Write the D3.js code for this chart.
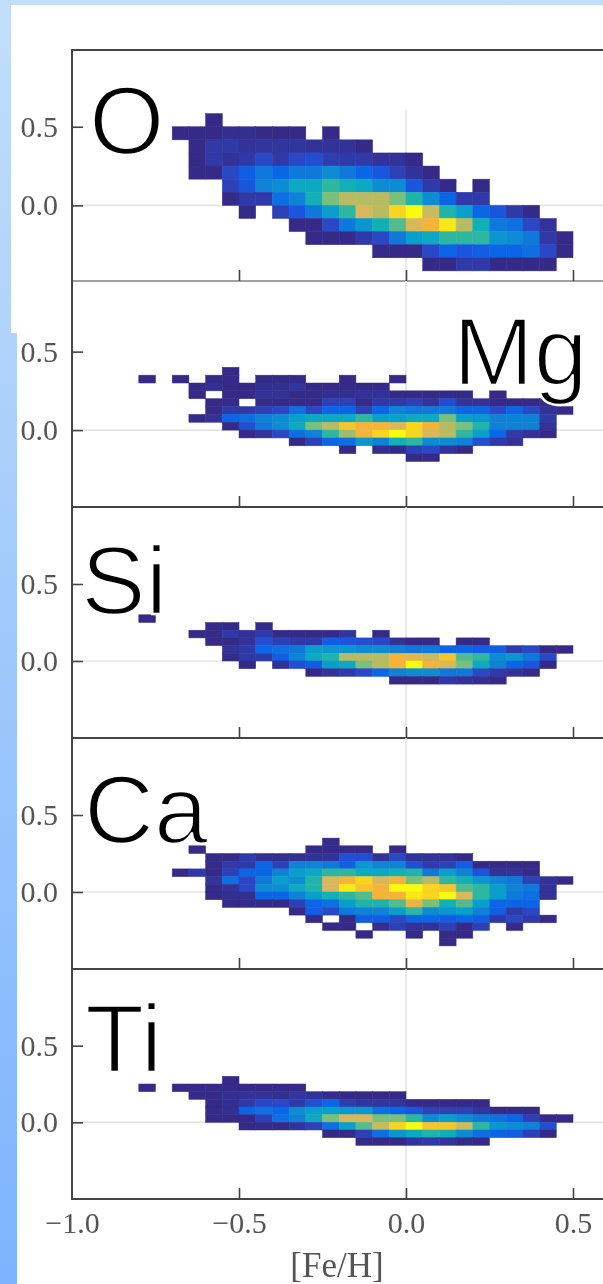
<!DOCTYPE html>
<html>
<head>
<meta charset="utf-8">
<script src="https://cdn.jsdelivr.net/npm/d3@7"></script>
<style>
html, body { margin: 0; padding: 0; background: #fff; overflow: hidden; }
svg { display: block; }
</style>
</head>
<body>
<svg id="mainsvg" width="603" height="1284"></svg>
<script>
// every row is [row index above [X/Fe]=0, first [Fe/H] column, cell levels], 0 = empty cell
var rowsO = [
	[6, 8, [1]],
	[5, 6, [1,1,1,1.3,1.3,1,1,1,0,1]],
	[4, 7, [1,2,2,1.5,1.6,1.7,1.7,1.5,1.5,1.5,1]],
	[3, 7, [1,2,1.5,2,3,2,3,3.5,2.3,2,2,1.5,1.5,1]],
	[2, 7, [1,1,3,4.5,6,5,6,6,7,6,5,4,2.5,1.5,1]],
	[1, 9, [2.5,4,6.5,7,8.5,8.5,10,9,8.5,7,7,4,2,1,0,1]],
	[0, 9, [1,2,2,5.5,6.5,9,11,12,12,12,11,9.5,7,5,2,2]],
	[-1, 10, [1,0,2.5,4,6,8,10,13,12,15,16,12.5,9.5,8,5,4,2,1]],
	[-2, 13, [1,1,3,6,7.5,9,10.5,13,14,15.5,12,9,6,5.5,3,1.5]],
	[-3, 14, [1,1,1,2,3,6,8,8.5,10,10,10,7.5,7,6,2,1]],
	[-4, 18, [1,1,1,3,5,4,4.5,5,5,5.5,3,1]],
	[-5, 21, [1,1,2,2,1,1,1,1]]
];
var rowsMg = [
	[7, 9, [1]],
	[6, 4, [1,0,1,0,1,1,0,1,1,1,0,0,1,0,0,1]],
	[5, 7, [1,1.3,1,1,1.3,1.3,1.7,1,1,1,1,1]],
	[4, 7, [1,0,1,1,1.5,1.5,1,1,1.3,1.3,1.5,1.5,1,1,1,1,1,0,1]],
	[3, 8, [1,1,0,1,1,1,1,2.5,2.5,1,2,2,2.5,1.5,3.5,1.5,1.5,1,1,1,1]],
	[2, 8, [1,2,2,2.5,3,5.5,3,5,5,2.5,5,6.5,6,6,6,5,5,3,5,3,1.5,1]],
	[1, 7, [1,1.5,5,5.5,6.5,7,8,8.5,8.5,8.5,10,8,8,8.5,8.5,11,8,7.5,6.5,6.5,6.5,2]],
	[0, 9, [1,3.5,6,7,8.5,11,12,14.5,14,14,13,15,14,12,11,9.5,6.5,6.5,6.5,1.5]],
	[-1, 10, [1,1.5,3,5.5,6.5,10,11.5,14,15,16,15,13,12,10,8,5,2,1.5,1]],
	[-2, 13, [1,2.5,5,5.5,7.5,6.5,9,10,7,7,6.5,3.5,2,1.5]],
	[-3, 16, [1,0,1.3,1,2.5,3,1.5,1]],
	[-4, 20, [1,1]]
];
var rowsSi = [
	[5, 4, [1]],
	[4, 8, [1,1,0,1]],
	[3, 7, [1,1,2,1.5,2,1,1,1,1,1.7,0,1]],
	[2, 8, [1,1,1.5,3.5,2.5,2,2,4.5,4,3.5,3,1.5,1,1,0,1,1]],
	[1, 9, [1.5,2,5,5.5,6,8,7.5,7.5,7,7,6.5,6,6,5,5,4.5,4.5,2,3,1,1]],
	[0, 9, [1,2,2,4.5,6.5,8.5,9.5,12,12,12,14,13.5,12.5,14.5,10.5,10,7,7.5,6,3]],
	[-1, 10, [1,0,1.5,3.5,4.5,8,8.5,11,12,14,16,14,13,11,8.5,6.5,5,4,1]],
	[-2, 14, [1,1.5,2,3,5,6.5,7,7,6,6,3,2,1.5,1]],
	[-3, 19, [1,1,1,2,1.5,1.3,1]]
];
var rowsCa = [
	[6, 15, [1]],
	[5, 7, [1,0,0,0,0,0,0,1,1,1,1,0,1]],
	[4, 8, [1,1,2,1.3,1.3,1.3,1.5,1.5,3.5,3.5,1.5,3,1.5,1.5,1.5,1]],
	[3, 8, [1,2,2,5,2.5,6.5,6.5,6,4.5,7.5,6.5,6.5,3.5,2,2.5,4.5,1,1,1,1]],
	[2, 6, [1,2,1,2.5,5,5,6.5,8,8.5,10,10,8.5,8.5,9,9.5,6,8,6.5,4,1.5,1.5,1]],
	[1, 8, [1.5,5.5,3,6,8,7,9.5,13,14,15,13,14,11,12,10,9,7.5,6.5,6,2.5,1.5,1]],
	[0, 8, [1,1.5,3,7,7,8.5,9.5,13,15.5,14.5,14,16,16,15,14.5,10.5,10,8,6.5,6,1.5]],
	[-1, 8, [1,1.3,1.3,5,5,6.5,8,9,10,10.5,14,14,15.5,15,16,13,10,8,6,5.5,1.5]],
	[-2, 9, [1,1,1,1,2.5,5,5.5,8,9.5,9.5,10.5,13.5,11,9,10.5,8,5,5,5]],
	[-3, 13, [1,4.5,3,6,6.5,6.5,8,10,7,7.5,8,6.5,4.5,2,3]],
	[-4, 14, [1,0,1,4.5,4.5,3,5,5,4.5,5,4.5,2,3,2,1]],
	[-5, 15, [1,1,0,1.3,2.5,1.5,1.5,2.5,1,2.5,0,1]],
	[-6, 17, [1,0,0,1,0,1,1]],
	[-7, 22, [1]]
];
var rowsTi = [
	[5, 9, [1]],
	[4, 4, [1,0,1,1,1,1,1,1,1,1]],
	[3, 7, [1,1,1.3,1.5,1.5,1.3,1.7,1.5,1.2,1,1,1,1]],
	[2, 8, [1,1.3,2,3,3,2,3.5,5,2.3,1.7,1.7,1.7,1,1,1,1,1]],
	[1, 8, [1,1.3,5,5.5,5,7,8,8,7.5,7.5,5.5,5,4,2.5,2.5,2.5,1.7,1,1,1]],
	[0, 8, [1,1,1,2.5,5.5,6.5,8.5,11,13,13,11,11,10,7,8,7,6,5.5,5,2.5,1,1]],
	[-1, 10, [1,1,1,1.7,2.5,5.5,8,10.5,12.5,15,16,14.5,14.5,12.5,10,7.5,7,6.5,3.5]],
	[-2, 15, [1,1,2.5,5.5,7.5,8.5,9.5,9,7,5.5,5,4.5,2.5,1]],
	[-3, 17, [1,1,1,1.7,2,1.7,1,1]]
];
var elements = ['O', 'Mg', 'Si', 'Ca', 'Ti'];
var elementRows = [rowsO, rowsMg, rowsSi, rowsCa, rowsTi];
var binX = 0.05;
var binY = [1/12, 0.05, 0.05, 0.05, 0.05];
var xTicks = [-1, -0.5, 0, 0.5];
var yTicks = [0, 0.5];
var yDomains = [[-0.481, 0.988], [-0.49, 0.95], [-0.5, 1], [-0.5, 1], [-0.5, 1]];

// layout
var W = 603, H = 1284;
var left = 72;
var tops = [50, 281, 507, 738, 969];
var bottoms = [281, 507, 738, 969, 1199];
var labelPos = [[89, 154], [453, 385], [81, 614], [84, 843], [85, 1072]];
var labelSize = [97, 97, 97, 97, 97];
var gridTop = [110, 281, 507, 738, 969];

var x = d3.scaleLinear().domain([-1, 0.5]).range([left, 573]);
var levelColor = d3.scaleLinear()
	.domain([1, 2, 3, 4, 5, 6, 7, 8, 9, 10, 11, 12, 13, 14, 15, 16])
	.range(['#352a87', '#2f3aa8', '#2a47c6', '#1a55dd', '#0a66e6', '#0f78da', '#0e8cd2', '#08a0cb',
		'#12afb6', '#2eb7a0', '#7bbf7c', '#b8bb62', '#d8b85a', '#f4b43a', '#f8d51e', '#f9fb0e']);

var svg = d3.select('#mainsvg');

var defs = svg.append('defs');
var grad = defs.append('linearGradient').attr('id', 'bluebg').attr('x1', 0).attr('x2', 0).attr('y1', 0).attr('y2', 1);
grad.append('stop').attr('offset', 0).attr('stop-color', '#c2defa');
grad.append('stop').attr('offset', 1).attr('stop-color', '#7cb4ff');

svg.append('rect').attr('width', W).attr('height', H).attr('fill', 'url(#bluebg)');
svg.append('rect').attr('x', 11).attr('y', 5).attr('width', W - 11).attr('height', 328).attr('fill', '#fff');
svg.append('rect').attr('x', 17).attr('y', 332).attr('width', W - 17).attr('height', H - 332).attr('fill', '#fff');

var plot = svg.append('g').style('filter', 'blur(0.7px)');

elements.forEach(function(name, i) {
	var y = d3.scaleLinear().domain(yDomains[i]).range([bottoms[i], tops[i]]);
	var g = plot.append('g').attr('class', 'panel');

	// grid
	g.append('line').attr('x1', left).attr('x2', W).attr('y1', y(0)).attr('y2', y(0))
		.attr('stroke', '#e4e4e4').attr('stroke-width', 1.6);
	g.append('line').attr('x1', x(0)).attr('x2', x(0)).attr('y1', gridTop[i]).attr('y2', bottoms[i])
		.attr('stroke', '#e4e4e4').attr('stroke-width', 1.6);

	// cells
	var cells = [];
	elementRows[i].forEach(function(row) {
		row[2].forEach(function(v, j) {
			if (v > 0) cells.push({k: row[0], c: row[1] + j, v: v});
		});
	});
	g.selectAll('rect.cell')
		.data(cells)
		.enter()
		.append('rect')
		.attr('class', 'cell')
		.attr('x', function(d) {return x(-1 + d.c * binX);})
		.attr('y', function(d) {return y((d.k + 1) * binY[i]);})
		.attr('width', x(binX) - x(0))
		.attr('height', y(0) - y(binY[i]))
		.attr('fill', function(d) {return levelColor(d.v);})
		.attr('stroke', function(d) {return levelColor(d.v);})
		.attr('stroke-width', 0.5);

	// axes
	var axisL = d3.axisLeft(y).tickValues(yTicks).tickSize(-11).tickPadding(14).tickFormat(d3.format('.1f'));
	var gl = g.append('g').attr('transform', 'translate(' + left + ',0)').call(axisL);
	var axisB = d3.axisBottom(x).tickValues(xTicks).tickSize(-11).tickPadding(13).tickFormat(d3.format('.1f'));
	var gb = g.append('g').attr('transform', 'translate(0,' + bottoms[i] + ')').call(axisB);
	if (i < elements.length - 1) gb.selectAll('text').remove();
	gb.selectAll('.tick').filter(function(d) {return d == -1;}).select('line').remove();
	gl.select('.domain').remove();
	gb.select('.domain').remove();
	[gl, gb].forEach(function(a) {
		a.selectAll('line').attr('stroke', '#444').attr('stroke-width', 1.6);
		a.selectAll('text').attr('fill', '#555')
			.style('font-family', '"Liberation Serif", serif').style('font-size', '30px');
	});

	// spines
	g.append('line').attr('x1', left).attr('x2', left).attr('y1', tops[i] - 1).attr('y2', bottoms[i] + 1)
		.attr('stroke', '#444').attr('stroke-width', 2);
	g.append('line').attr('x1', left).attr('x2', W).attr('y1', bottoms[i]).attr('y2', bottoms[i])
		.attr('stroke', '#444').attr('stroke-width', i == 0 ? 1.2 : 2);
	if (i == 0) {
		g.append('line').attr('x1', left).attr('x2', W).attr('y1', tops[i]).attr('y2', tops[i])
			.attr('stroke', '#444').attr('stroke-width', 2);
	}
});

svg.append('text')
	.attr('x', 337).attr('y', 1277)
	.attr('text-anchor', 'middle')
	.attr('fill', '#555')
	.style('font-family', '"Liberation Serif", serif')
	.style('font-size', '35px')
	.text('[Fe/H]');

// element names pasted over the plot, white outline thins the face down to a light weight
svg.selectAll('text.elem')
	.data(elements)
	.enter()
	.append('text')
	.attr('class', 'elem')
	.attr('x', function(d, i) {return labelPos[i][0];})
	.attr('y', function(d, i) {return labelPos[i][1];})
	.attr('fill', '#000')
	.attr('stroke', '#fff')
	.attr('stroke-width', 2.4)
	.style('font-family', '"Liberation Sans", sans-serif')
	.style('font-size', function(d, i) {return labelSize[i] + 'px';})
	.text(function(d) {return d;});
</script>
</body>
</html>
